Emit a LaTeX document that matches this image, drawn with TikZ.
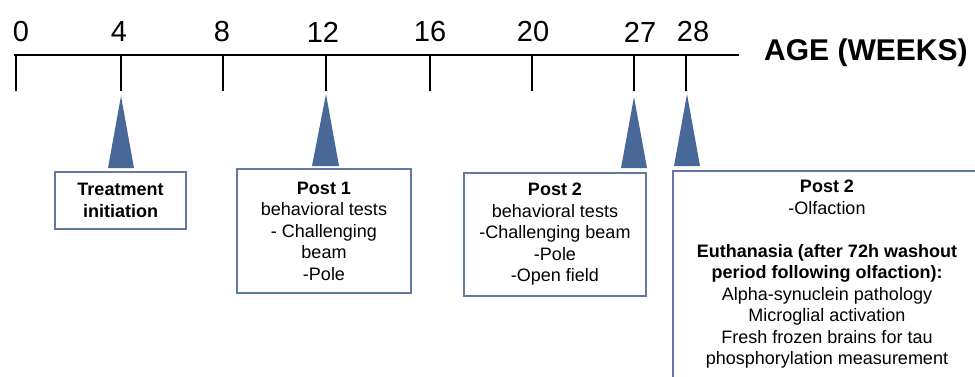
\documentclass[tikz,border=0pt]{standalone}
\usepackage{fontspec}
\setmainfont{Liberation Sans}
\begin{document}
\begin{tikzpicture}[x=1pt,y=-1pt,
  tick/.style={line width=2.6pt,black},
  ticklabel/.style={font=\fontsize{29}{30}\selectfont,inner sep=0pt},
  marker/.style={fill=tri},
  box/.style={draw=boxc,line width=2.8pt,align=center,inner sep=0pt,font=\fontsize{18}{21.5}\selectfont},
  boxtext/.style={align=center,inner sep=0pt,font=\fontsize{18}{21.5}\selectfont}]
\definecolor{tri}{RGB}{72,104,152}
\definecolor{boxc}{RGB}{98,122,162}
\useasboundingbox (0,0) rectangle (975,376);
\clip (0,0) rectangle (975,376);
\fill[white] (0,0) rectangle (975,376);
% axis
\coordinate (axL) at (14,55);
\coordinate (axR) at (739,55);
\draw[line width=2.8pt] (axL) -- (axR);
\foreach \x/\lx/\l in {16/21/0,121/119/4,223/222/8,326/323/12,430/430/16,532/533/20,634/640/27,686/693/28}{
  \draw[tick] (\x,55) -- (\x,91);
  \node[ticklabel] (t\l) at (\lx,32) {\l};
}
\node[inner sep=0pt,font=\bfseries\fontsize{30}{32}\selectfont,anchor=west] (age) at (764,53) {AGE (WEEKS)};
% markers
\fill[marker] (121,96) -- (134,168) -- (108,168) -- cycle;
\fill[marker] (326,94) -- (339,166) -- (312,166) -- cycle;
\fill[marker] (634,97) -- (647,168) -- (621,168) -- cycle;
\fill[marker] (687,94) -- (700,166) -- (674,166) -- cycle;
% boxes
\node[box,minimum width=131pt,minimum height=57pt] (b1) at (120.5,200.5)
  {\bfseries Treatment\\\bfseries initiation};
\node[box,minimum width=174pt,minimum height=124pt] (b2) at (324,231)
  {\bfseries Post 1\\behavioral tests\\- Challenging\\beam\\-Pole};
\node[box,minimum width=182pt,minimum height=123pt] (b3) at (555,234.5)
  {\bfseries Post 2\\behavioral tests\\-Challenging beam\\-Pole\\-Open field};
\draw[draw=boxc,line width=2.8pt] (673,171) rectangle (1000,400);
\node[boxtext,anchor=north] (b4) at (827,180)
  {\bfseries Post 2\\-Olfaction\\[21.5pt]\bfseries Euthanasia (after 72h washout\\\bfseries period following olfaction):\\Alpha-synuclein pathology\\Microglial activation\\Fresh frozen brains for tau\\phosphorylation measurement};
\end{tikzpicture}
\end{document}
